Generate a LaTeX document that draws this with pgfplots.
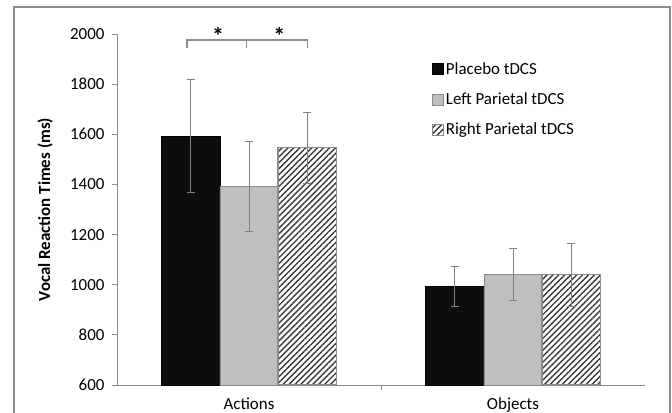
\documentclass[border=0pt]{standalone}
\usepackage{fontspec}
\setmainfont{Carlito}
\usepackage{pgfplots}
\pgfplotsset{compat=1.18}
\usetikzlibrary{patterns.meta}

\definecolor{axgray}{HTML}{8C8C8C}
\definecolor{errgray}{HTML}{808080}
\definecolor{barblack}{HTML}{0D0D0D}
\definecolor{bargray}{HTML}{BFBFBF}
\definecolor{hatch}{HTML}{3A3A3A}

\pgfplotstableread{
x y e
0 1592 225
1 992 80
}\placebo
\pgfplotstableread{
x y e
0 1392 180
1 1040 103
}\leftpar
\pgfplotstableread{
x y e
0 1546 143
1 1040 125
}\rightpar

\begin{document}
\begin{tikzpicture}[x=1bp,y=1bp]
\useasboundingbox (0,0) rectangle (672,412);
\draw[axgray, line width=1.2bp] (14,-5) -- (14,405) -- (670,405) -- (670,-5);
\begin{axis}[
  at={(117bp,27bp)}, anchor=south west,
  width=528bp, height=351bp, scale only axis,
  ybar=0pt, bar width=0.22,
  xmin=-0.5, xmax=1.5, ymin=600, ymax=2000,
  ytick={600,800,...,2000},
  xtick={0,1}, xticklabels={Actions,Objects},
  major x tick style={draw=none},
  axis x line*=bottom, axis y line*=left,
  axis line style={axgray, line width=0.9bp},
  tick style={axgray, line width=0.9bp},
  tick align=outside, major tick length=5bp,
  /pgf/number format/assume math mode=true,
  /pgf/number format/1000 sep={},
  yticklabel style={font=\fontsize{17}{19}\selectfont, xshift=-4bp},
  xticklabel style={font=\fontsize{17}{19}\selectfont, yshift=-4bp},
  ylabel={Vocal Reaction Times (ms)},
  ylabel style={font=\bfseries\fontsize{17}{19}\selectfont, at={(axis description cs:-0.136,0.5)}, anchor=center},
  clip=false,
  legend style={at={(0.59,0.93)}, anchor=north west, draw=none, fill=none,
    font=\fontsize{17}{20}\selectfont, row sep=13bp, cells={anchor=west},
    nodes={inner xsep=2bp}},
  every axis plot post/.append style={legend image code/.code={\draw[##1] (0bp,-5.5bp) rectangle (11bp,5.5bp);}},
  error bars/y dir=both, error bars/y explicit,
  error bars/error bar style={errgray, line width=0.9bp},
  error bars/error mark options={rotate=90, errgray, mark size=4bp, line width=0.9bp},
]
\addplot[fill=barblack, draw=black, line width=0.8bp] table[x=x, y=y, y error=e] {\placebo};
\addlegendentry{Placebo tDCS}
\addplot[fill=bargray, draw=axgray, line width=0.8bp] table[x=x, y=y, y error=e] {\leftpar};
\addlegendentry{Left Parietal tDCS}
\addplot[pattern={Lines[angle=45, distance=4.2bp, line width=1.4bp]}, pattern color=hatch, draw=axgray, line width=1.2bp] table[x=x, y=y, y error=e] {\rightpar};
\addlegendentry{Right Parietal tDCS}
% category separator tick
\draw[axgray, line width=0.9bp] (axis cs:0.5,600) -- ([yshift=-5bp]axis cs:0.5,600);
% significance brackets
\draw[axgray, line width=1.1bp] (axis cs:-0.235,1945) -- (axis cs:-0.235,1976) -- (axis cs:0.22,1976) -- (axis cs:0.22,1945);
\draw[axgray, line width=1.1bp] (axis cs:-0.008,1976) -- (axis cs:-0.008,1945);
\node[font=\bfseries\fontsize{24}{26}\selectfont] at (axis cs:-0.117,1994) {*};
\node[font=\bfseries\fontsize{24}{26}\selectfont] at (axis cs:0.115,1994) {*};
\end{axis}
\end{tikzpicture}
\end{document}
